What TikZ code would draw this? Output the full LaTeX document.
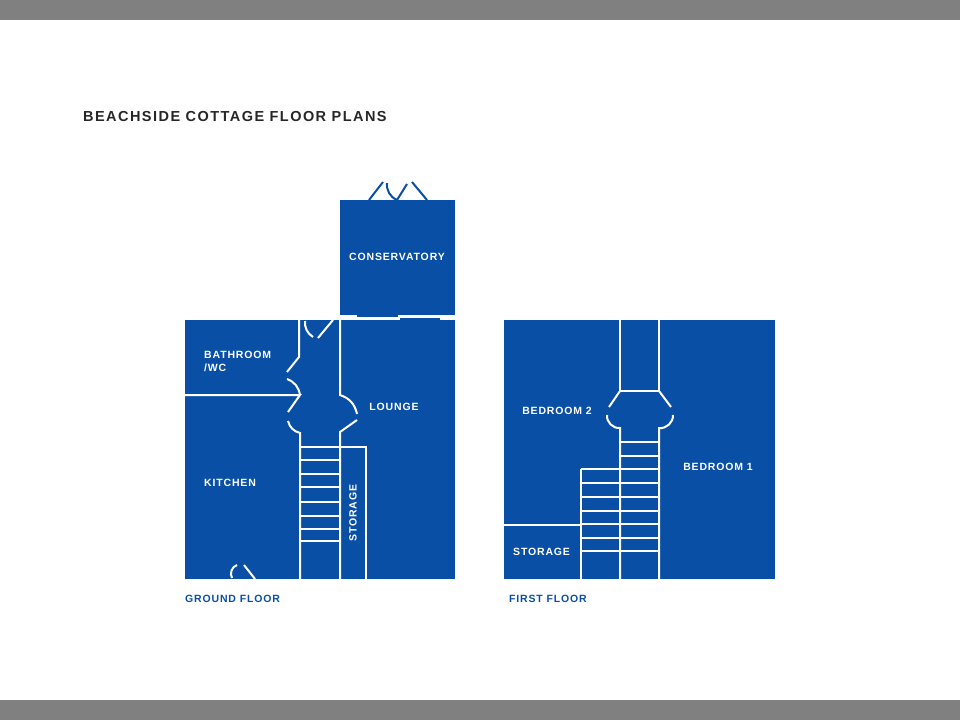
\documentclass[tikz,border=0pt]{standalone}
\usepackage{fontspec}
\setmainfont{Liberation Sans}
\newfontfamily\spaced[LetterSpace=8]{Liberation Sans}
\newfontfamily\spacedt[LetterSpace=10]{Liberation Sans}
\definecolor{plan}{HTML}{0A4FA6}
\definecolor{bar}{HTML}{808080}
\begin{document}
\begin{tikzpicture}[x=1pt,y=-1pt,
  wall/.style={white,line width=2pt},
  lbl/.style={white,font=\spaced\fontsize{10.5}{13}\selectfont\bfseries,inner sep=0},
  floorcap/.style={plan,font=\spaced\fontsize{10.5}{12}\selectfont\bfseries,inner sep=0}]
\useasboundingbox (0,0) rectangle (960,720);
\fill[bar] (0,0) rectangle (960,20);
\fill[bar] (0,700) rectangle (960,720);
\node[anchor=west,inner sep=0,font=\spacedt\fontsize{14.5}{16}\selectfont\bfseries,black!85] (title) at (83,117) {BEACHSIDE COTTAGE FLOOR PLANS};
% ground floor
\fill[plan] (185,320) rectangle (455,579);
\fill[plan] (340,200) rectangle (455,315);
\fill[plan] (357,315) rectangle (398,317);
\fill[plan] (400,318) rectangle (440,320);
% conservatory doors
\draw[plan,line width=2pt] (369,200) -- (383,182);
\draw[plan,line width=2pt] (387,183) to[bend right=35] (397,200) -- (407,184);
\draw[plan,line width=2pt] (412,182) -- (427,200);
% walls
\draw[wall] (299,320) -- (299,357) -- (287,372);
\draw[wall] (287,379) to[bend left=30] (300,395);
\draw[wall] (185,395) -- (300,395) -- (288,412);
\draw[wall] (288,421) to[bend right=30] (300,433) -- (300,579);
\draw[wall] (305,321) to[bend right=30] (313,337);
\draw[wall] (333,320) -- (318,338);
\draw[wall] (340,320) -- (340,395) to[bend left=30] (357,414);
\draw[wall] (357,420) -- (340,432) -- (340,579);
\draw[wall] (300,447) -- (366,447) -- (366,579);
\foreach \y in {460,474,487,502,516,529,541} \draw[wall] (300,\y) -- (340,\y);
\draw[wall] (232,578) to[bend left=50] (237,565);
\draw[wall] (244,565) -- (255,579);
\node[lbl,anchor=west,align=left] (bath) at (204,361) {BATHROOM\\/WC};
\node[lbl,anchor=west] (kit) at (204,483) {KITCHEN};
\node[lbl] (lounge) at (394,407) {LOUNGE};
\node[lbl,rotate=90] (sto1) at (353,513) {STORAGE};
\node[lbl] (cons) at (397,257) {CONSERVATORY};
\node[floorcap,anchor=west] (gf) at (185,599) {GROUND FLOOR};
% first floor
\fill[plan] (504,320) rectangle (775,579);
\draw[wall] (620,320) -- (620,391) -- (659,391) -- (659,320);
\draw[wall] (620,391) -- (609,407);
\draw[wall] (659,391) -- (671,407);
\draw[wall] (607,415) to[bend right=50] (620,428) -- (620,579);
\draw[wall] (673,415) to[bend left=50] (659,428) -- (659,579);
\foreach \y in {442,456} \draw[wall] (620,\y) -- (659,\y);
\foreach \y in {469,483,497,511,524,538,551} \draw[wall] (581,\y) -- (659,\y);
\draw[wall] (581,469) -- (581,579);
\draw[wall] (504,525) -- (581,525);
\node[lbl] (b2) at (557,411) {BEDROOM 2};
\node[lbl] (b1) at (718,467) {BEDROOM 1};
\node[lbl,anchor=west] (sto2) at (513,552) {STORAGE};
\node[floorcap,anchor=west] (ff) at (509,599) {FIRST FLOOR};
\end{tikzpicture}
\end{document}
